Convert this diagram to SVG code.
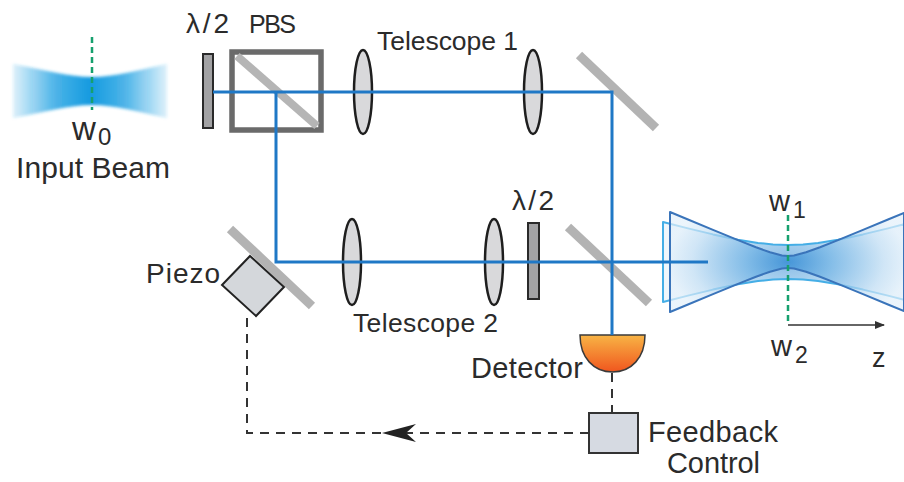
<svg xmlns="http://www.w3.org/2000/svg" width="904" height="482" viewBox="0 0 904 482">
  <style>
    text { font-family: "Liberation Sans", Arial, sans-serif; fill: #2b2b2b; }
    .beam { fill: none; stroke: #1f78c6; stroke-width: 3; stroke-linejoin: miter; }
    .lens { fill: #d9d9db; stroke: #1e1e1e; stroke-width: 2.5; }
    .mirror { stroke: #b3b3b3; stroke-width: 9; stroke-linecap: butt; }
    .plate { fill: #a2a2a4; stroke: #2a2a2a; stroke-width: 2; }
    .waist { stroke: #16a06e; stroke-width: 2.5; stroke-dasharray: 6 4; fill: none; }
    .dash { fill: none; stroke: #333; stroke-width: 2; stroke-dasharray: 9 7; }
  </style>
  <defs>
    <linearGradient id="inGrad" x1="13" y1="0" x2="167" y2="0" gradientUnits="userSpaceOnUse">
      <stop offset="0" stop-color="#1ea0e2" stop-opacity="0.15"/>
      <stop offset="0.28" stop-color="#1ea0e2" stop-opacity="0.8"/>
      <stop offset="0.5" stop-color="#139ae0" stop-opacity="1"/>
      <stop offset="0.72" stop-color="#1ea0e2" stop-opacity="0.8"/>
      <stop offset="1" stop-color="#1ea0e2" stop-opacity="0.15"/>
    </linearGradient>
    <radialGradient id="outGrad" cx="788" cy="262" r="120" gradientUnits="userSpaceOnUse" gradientTransform="translate(788 262) scale(1 0.6) translate(-788 -262)">
      <stop offset="0" stop-color="#2a86d2"/>
      <stop offset="0.35" stop-color="#6fb2e4"/>
      <stop offset="0.8" stop-color="#c9e2f5"/>
      <stop offset="1" stop-color="#e3f0fa"/>
    </radialGradient>
    <linearGradient id="detGrad" x1="0" y1="335" x2="0" y2="372" gradientUnits="userSpaceOnUse">
      <stop offset="0" stop-color="#f8b445"/>
      <stop offset="1" stop-color="#f0561e"/>
    </linearGradient>
    <filter id="soft" x="-10%" y="-30%" width="120%" height="160%">
      <feGaussianBlur stdDeviation="1.6"/>
    </filter>
    <marker id="zHead" viewBox="0 0 10 10" refX="9" refY="5" markerWidth="7" markerHeight="7" orient="auto">
      <path d="M0,1 L10,5 L0,9 Z" fill="#333"/>
    </marker>
  </defs>

  <!-- incoming Gaussian beam with its waist -->
  <g id="input-beam">
    <path d="M13,64 C45,70 70,77 92,77 C114,77 139,70 167,64 L167,118 C139,112 114,105 92,105 C70,105 45,112 13,118 Z" fill="url(#inGrad)" filter="url(#soft)"/>
    <line class="waist" x1="92" y1="37" x2="92" y2="110"/>
    <text x="72" y="140" font-size="33">w</text>
    <text x="98" y="145" font-size="24">0</text>
    <text x="16" y="178" font-size="30" textLength="154">Input Beam</text>
  </g>

  <!-- half-wave plate before the splitter -->
  <g id="hwp-1">
    <rect class="plate" x="203" y="54" width="10" height="74"/>
    <text x="186" y="33" font-size="28" textLength="43">λ/2</text>
  </g>

  <!-- polarising beam splitter cube -->
  <g id="pbs">
    <rect x="232" y="52" width="89" height="78" fill="#fff" stroke="#6a6a6a" stroke-width="5.5"/>
    <line x1="237" y1="56" x2="317" y2="126" stroke="#b5b5b5" stroke-width="8"/>
    <text x="249" y="33" font-size="25" textLength="47">PBS</text>
  </g>

  <!-- first telescope -->
  <g id="telescope-1">
    <ellipse class="lens" cx="363" cy="92" rx="9" ry="42"/>
    <ellipse class="lens" cx="533" cy="92" rx="9" ry="42"/>
    <text x="377" y="50" font-size="26.5" textLength="141">Telescope 1</text>
  </g>

  <!-- fold mirror, upper arm -->
  <g id="mirror-1">
    <line class="mirror" x1="579" y1="55" x2="656" y2="128"/>
  </g>

  <!-- recombining mirror -->
  <g id="mirror-2">
    <line class="mirror" x1="568" y1="227" x2="649" y2="303"/>
  </g>

  <!-- mirror on the piezo actuator -->
  <g id="piezo">
    <line class="mirror" x1="230" y1="229" x2="312" y2="306"/>
    <polygon points="250,256 284,287 256,316 222,285" fill="#d4d7db" stroke="#222" stroke-width="2"/>
    <text x="146" y="283" font-size="28" textLength="74">Piezo</text>
  </g>

  <!-- second telescope -->
  <g id="telescope-2">
    <ellipse class="lens" cx="352" cy="262" rx="9" ry="43"/>
    <ellipse class="lens" cx="494" cy="262" rx="9" ry="43"/>
    <text x="353" y="332" font-size="26.5" textLength="145">Telescope 2</text>
  </g>

  <!-- half-wave plate, lower arm -->
  <g id="hwp-2">
    <rect class="plate" x="528" y="223" width="11" height="76"/>
    <text x="512" y="210" font-size="28" textLength="42">λ/2</text>
  </g>

  <!-- combined output: two overlapping beams with different waists -->
  <g id="output-beam">
    <path d="M663,222 L688,228.4 L713,234.4 L738,239.7 L758,242.9 L773,244.5 L788,245 L803,244.5 L818,242.9 L838,239.7 L863,234.4 L888,228.4 L904,224.3 L904,299.7 L888,295.6 L863,289.6 L838,284.3 L818,281.1 L803,279.5 L788,279 L773,279.5 L758,281.1 L738,284.3 L713,289.6 L688,295.6 L663,302 Z" fill="url(#outGrad)" fill-opacity="0.55" stroke="#45aee6" stroke-width="2" stroke-linejoin="round"/>
    <path d="M670,212 L688,219.5 L713,229.9 L738,240.1 L756,247.3 L770,252.3 L782,255.5 L788,256 L794,255.5 L806,252.3 L820,247.3 L838,240.1 L863,229.9 L888,219.5 L904,213 L904,311 L888,304.5 L863,294.1 L838,283.9 L820,276.7 L806,271.7 L794,268.5 L788,268 L782,268.5 L770,271.7 L756,276.7 L738,283.9 L713,294.1 L688,304.5 L670,312 Z" fill="url(#outGrad)" fill-opacity="0.7" stroke="#3a74ba" stroke-width="2" stroke-linejoin="round"/>
    <line class="waist" x1="788" y1="215" x2="788" y2="323"/>
    <line x1="788" y1="325" x2="884" y2="325" stroke="#333" stroke-width="1.5" marker-end="url(#zHead)"/>
    <text x="769" y="211" font-size="29">w</text>
    <text x="793" y="218" font-size="23">1</text>
    <text x="771" y="356" font-size="29">w</text>
    <text x="795" y="363" font-size="23">2</text>
    <text x="872" y="367" font-size="27">z</text>
  </g>

  <!-- photodetector -->
  <g id="detector">
    <path d="M580,335 L645,335 C645,358 631,372 612.5,372 C594,372 580,358 580,335 Z" fill="url(#detGrad)" stroke="#3a3a3a" stroke-width="1.5"/>
    <text x="471" y="378" font-size="29" textLength="112">Detector</text>
  </g>

  <!-- feedback electronics -->
  <g id="feedback-control">
    <rect x="589" y="413" width="49" height="40" fill="#d6dae2" stroke="#333" stroke-width="2"/>
    <text x="648" y="442" font-size="29" textLength="130">Feedback</text>
    <text x="667" y="473" font-size="29" textLength="93">Control</text>
  </g>

  <!-- optical paths and the electronic feedback loop -->
  <g id="connectors">
    <path class="beam" d="M213,92 L612,92 L612,335"/>
    <path class="beam" d="M276,92 L276,262 L708,262"/>
    <path class="dash" d="M612,373 L612,413"/>
    <path class="dash" d="M589,433 L247,433 L247,313"/>
    <path d="M382,433 L416,424 L406,433 L416,442 Z" fill="#222"/>
  </g>
</svg>
